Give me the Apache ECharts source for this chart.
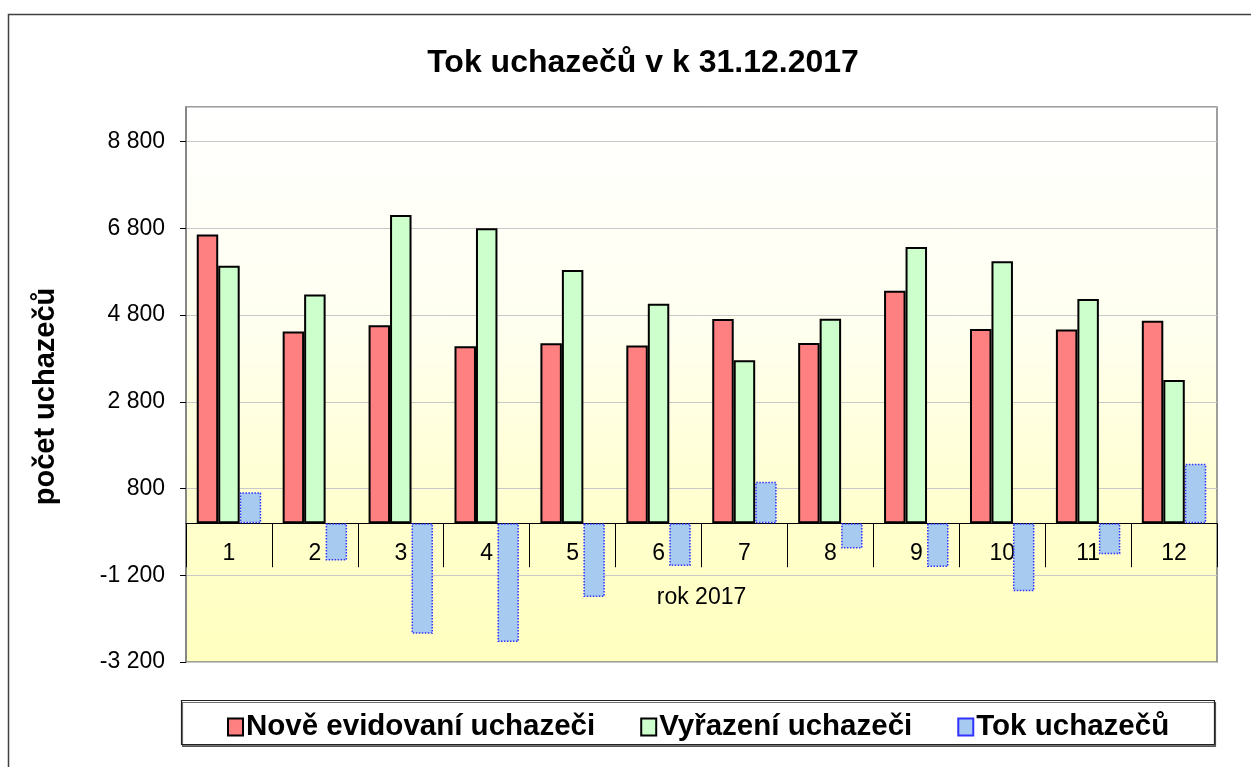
<!DOCTYPE html>
<html>
<head>
<meta charset="utf-8">
<title>Tok uchazečů</title>
<script src="https://cdn.jsdelivr.net/npm/echarts@6/dist/echarts.min.js"></script>
<style>
    html, body { margin: 0; padding: 0; background: #fff; }
    #chart { width: 1251px; height: 767px; }
</style>
</head>
<body>
<div id="chart"></div>
<script>
// values
var months = ["1", "2", "3", "4", "5", "6", "7", "8", "9", "10", "11", "12"];
var noveEvidovani = [6660, 4420, 4565, 4081, 4150, 4097, 4712, 4159, 5365, 4482, 4466, 4673];
var vyrazeni = [5941, 5273, 7110, 6801, 5842, 5065, 3758, 4719, 6372, 6040, 5173, 3306];
var tok = [715, -860, -2550, -2740, -1700, -985, 955, -580, -1010, -1570, -715, 1370];
var seriesNames = ["Nově evidovaní uchazeči", "Vyřazení uchazeči", "Tok uchazečů"];

var font = "Arial, 'Liberation Sans', sans-serif";
var yMin = -3200, yMax = 9600;
var gridTop = 107, gridBottom = 105, chartH = 767;

function spaced(v) {
    var s = Math.abs(v) + "";
    s = s.replace(/\B(?=(\d{3})+(?!\d))/g, " ");
    return (v < 0 ? "-" : "") + s;
}

// category axis sits on zero, like in Excel (labels and ticks move with it)
var plotH = chartH - gridTop - gridBottom;
var zeroOffset = -(0 - yMin) / (yMax - yMin) * plotH;

var chart = echarts.init(document.getElementById("chart"));

chart.setOption({
    animation: false,
    backgroundColor: "#ffffff",
    title: {
        text: "Tok uchazečů v k 31.12.2017",
        left: 638,
        textAlign: "center",
        top: 42,
        textStyle: { fontFamily: font, fontSize: 32, fontWeight: "bold", color: "#000" }
    },
    graphic: [
        {
            type: "rect",
            shape: { x: 8.5, y: 14.5, width: 1400, height: 900 },
            style: { fill: "none", stroke: "#404040", lineWidth: 1.5 },
            silent: true,
            z: -10
        },
        {
            type: "rect",
            shape: { x: 181.5, y: 700.5, width: 1033, height: 44 },
            style: {
                fill: "#ffffff", stroke: "#222", lineWidth: 1.2,
                shadowColor: "rgba(0,0,0,0.55)", shadowOffsetX: 1, shadowOffsetY: 2, shadowBlur: 0
            },
            silent: true,
            z: -5
        }
    ],
    legend: {
        left: 222,
        top: 707,
        icon: "rect",
        itemWidth: 15,
        itemHeight: 17,
        itemGap: 45,
        textStyle: { fontFamily: font, fontSize: 29.5, fontWeight: "bold", color: "#000", padding: [0, 0, 0, -2] },
        data: seriesNames
    },
    grid: {
        left: 186,
        top: gridTop,
        right: 34,
        bottom: gridBottom,
        show: true,
        borderColor: "#7f7f7f",
        borderWidth: 1.5,
        backgroundColor: new echarts.graphic.LinearGradient(0, 0, 0, 1, [
            { offset: 0, color: "#ffffff" },
            { offset: 0.4, color: "#fffff0" },
            { offset: 0.75, color: "#ffffcc" },
            { offset: 1, color: "#ffffc0" }
        ])
    },
    xAxis: {
        type: "category",
        data: months,
        position: "bottom",
        offset: zeroOffset,
        name: "rok 2017",
        nameLocation: "middle",
        nameGap: 63,
        nameTextStyle: { fontFamily: font, fontSize: 23, color: "#000" },
        axisLine: { onZero: false, lineStyle: { color: "#000", width: 1 } },
        axisTick: { show: true, length: 44, lineStyle: { color: "#000", width: 1 } },
        axisLabel: { fontFamily: font, fontSize: 23, color: "#000", margin: 19 },
        splitLine: { show: false }
    },
    yAxis: {
        type: "value",
        min: yMin,
        max: yMax,
        interval: 2000,
        name: "počet uchazečů",
        nameLocation: "middle",
        nameRotate: 90,
        nameGap: 126,
        nameTextStyle: { fontFamily: font, fontSize: 29, fontWeight: "bold", color: "#000", padding: [0, 24, 0, 0] },
        axisLine: { show: true, lineStyle: { color: "#7f7f7f", width: 1.5 } },
        axisTick: { show: true, length: 6, lineStyle: { color: "#000" } },
        axisLabel: {
            fontFamily: font, fontSize: 23, color: "#000", margin: 21,
            showMaxLabel: false,
            formatter: spaced
        },
        splitLine: { show: true, lineStyle: { color: "#c8c8c8", width: 1 } }
    },
    series: [
        {
            name: seriesNames[0],
            type: "bar",
            data: noveEvidovani,
            barGap: "0%",
            barCategoryGap: "25%",
            itemStyle: { color: "#ff8080", borderColor: "#000", borderWidth: 2 }
        },
        {
            name: seriesNames[1],
            type: "bar",
            data: vyrazeni,
            barGap: "0%",
            barCategoryGap: "25%",
            itemStyle: { color: "#ccffcc", borderColor: "#000", borderWidth: 2 }
        },
        {
            name: seriesNames[2],
            type: "bar",
            data: tok,
            barGap: "0%",
            barCategoryGap: "25%",
            itemStyle: { color: "#a6caf0", borderColor: "#3333ff", borderWidth: 1.5, borderType: "dotted" }
        }
    ]
});
</script>
</body>
</html>
